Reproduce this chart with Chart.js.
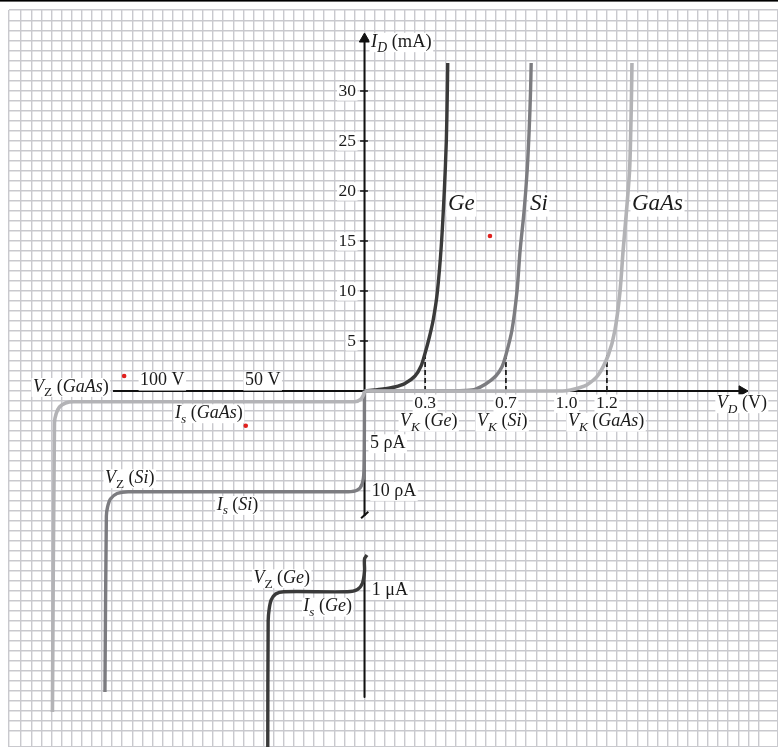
<!DOCTYPE html>
<html>
<head>
<meta charset="utf-8">
<script src="https://cdn.jsdelivr.net/npm/chart.js@4.4.1/dist/chart.umd.min.js"></script>
<style>
html,body{margin:0;padding:0;background:#fff;overflow:hidden;}
canvas{display:block;}
</style>
</head>
<body>
<canvas id="c" width="778" height="747" style="width:778px;height:747px"></canvas>
<script>
// ---- data (V in volts, I in mA; negative region is the book's schematic, broken scale) ----
const geFwdV   = [0, 0.05, 0.1, 0.15, 0.2, 0.25, 0.28, 0.3, 0.32, 0.34, 0.36, 0.38, 0.395, 0.405, 0.41, 0.412];
const geFwdI   = [0, 0.1, 0.22, 0.4, 0.75, 1.5, 2.5, 3.8, 5.3, 7.1, 9.8, 14.5, 20, 25, 30, 32.8];
const siFwdV   = [0, 0.44, 0.5, 0.55, 0.6, 0.65, 0.68, 0.7, 0.73, 0.755, 0.77, 0.79, 0.805, 0.815, 0.822, 0.825];
const siFwdI   = [0, 0, 0.05, 0.2, 0.7, 1.5, 2.4, 3.6, 6.1, 10, 14, 18, 22, 26, 30, 32.8];
const gaasFwdV = [0, 0.98, 1.02, 1.06, 1.1, 1.157, 1.207, 1.24, 1.265, 1.28, 1.297, 1.312, 1.318, 1.322, 1.324];
const gaasFwdI = [0, 0, 0.1, 0.3, 0.6, 1.6, 3.6, 6.1, 10, 14, 18, 22, 26, 30, 32.8];

const gaasRevV = [0, -0.005, -0.02, -0.05, -1.44, -1.48, -1.51, -1.527, -1.535, -1.545];
const gaasRevI = [0, -0.4, -0.85, -1.07, -1.07, -1.2, -1.6, -2.3, -3.2, -32.1];
const siRevV   = [0, -0.003, -0.012, -0.035, -0.08, -1.17, -1.225, -1.258, -1.272, -1.278, -1.285];
const siRevI   = [0, -8.0, -9.3, -9.9, -10.07, -10.07, -10.25, -10.8, -11.6, -12.5, -30.1];
const geRevV   = [0.012, 0, 0, -0.01, -0.035, -0.085, -0.4, -0.44, -0.462, -0.472, -0.477, -0.479];
const geRevI   = [-16.4, -16.8, -18.0, -19.2, -19.85, -20.07, -20.07, -20.3, -20.9, -21.8, -23, -36];

const kneeV    = [0.3, 0.7, 1.2];     // V_K (Ge), V_K (Si), V_K (GaAs)
const kneeI    = [3.8, 3.6, 3.6];     // current where the dashed drop line meets the curve
const xTickLabels = ['0.3', '0.7', '1.0', '1.2'];
const xTickValues = [0.3, 0.7, 1.0, 1.2];
const yTickValues = [5, 10, 15, 20, 25, 30];
const dotV = [-1.19, 0.621, -0.588];
const dotI = [1.5, 15.5, -3.47];

// ---- helpers ----
const pts = (xs, ys) => xs.map((x, i) => ({x, y: ys[i]}));
const SERIF = '"Liberation Serif", "DejaVu Serif", serif';

function curve(xs, ys, color, width, order, extra) {
  return Object.assign({
    data: pts(xs, ys), showLine: true, borderColor: color, borderWidth: width,
    pointRadius: 0, tension: 0.3, order, fill: false, borderCapStyle: 'butt', borderJoinStyle: 'round'
  }, extra || {});
}

const datasets = [];
// curves (lower order = drawn on top)
datasets.push(curve(gaasFwdV, gaasFwdI, '#b3b3b6', 3.6, 1));
datasets.push(curve(gaasRevV, gaasRevI, '#b3b3b6', 3.6, 1));
datasets.push(curve(siFwdV, siFwdI, '#7c7c80', 3.4, 2));
datasets.push(curve(siRevV, siRevI, '#7c7c80', 3.4, 2));
datasets.push(curve(geFwdV, geFwdI, '#3a3a3a', 3.4, 3));
datasets.push(curve(geRevV, geRevI, '#3a3a3a', 3.4, 3));
// dashed knee lines
kneeV.forEach((v, i) => datasets.push(curve([v, v], [0, kneeI[i]], '#222', 1.8, 4, {borderDash: [5, 3], tension: 0})));
// axes
datasets.push(curve([-1.245, 1.87], [0, 0], '#111', 2, 5, {tension: 0}));
datasets.push(curve([0, 0], [-12.5, 35.2], '#111', 2, 5, {tension: 0}));
datasets.push(curve([0, 0], [-16.7, -30.6], '#111', 2, 5, {tension: 0}));
datasets.push(curve([-0.017, 0.019], [-12.73, -12.07], '#111', 2, 5, {tension: 0}));
// arrow heads
datasets.push({data: [{x: 1.869, y: 0}], showLine: false, pointStyle: 'triangle', rotation: 90, pointRadius: 6,
  backgroundColor: '#111', borderColor: '#111', borderWidth: 1, order: 5});
datasets.push({data: [{x: 0, y: 35.2}], showLine: false, pointStyle: 'triangle', rotation: 0, pointRadius: 6,
  backgroundColor: '#111', borderColor: '#111', borderWidth: 1, order: 5});
// y tick marks
yTickValues.forEach(v => datasets.push(curve([-0.022, 0.017], [v, v], '#111', 1.5, 5, {tension: 0})));
// red dots
datasets.push({data: pts(dotV, dotI), showLine: false, pointRadius: 2.3, backgroundColor: '#e0201e', borderWidth: 0, order: 0});

// ---- text annotations (anchor in data units) ----
const annotations = [
  {parts: [['I', 'i'], ['D', 'is'], [' (mA)', '']], x: 0.032, y: 34.9, align: 'left', size: 18.5},
  {parts: [['Ge', 'i']], x: 0.413, y: 18.7, align: 'left', size: 23},
  {parts: [['Si', 'i']], x: 0.819, y: 18.7, align: 'left', size: 23},
  {parts: [['GaAs', 'i']], x: 1.324, y: 18.7, align: 'left', size: 23},
  {parts: [['V', 'i'], ['K', 'is'], [' (', ''], ['Ge', 'i'], [')', '']], x: 0.176, y: -3.07, align: 'left', size: 18},
  {parts: [['V', 'i'], ['K', 'is'], [' (', ''], ['Si', 'i'], [')', '']], x: 0.557, y: -3.07, align: 'left', size: 18},
  {parts: [['V', 'i'], ['K', 'is'], [' (', ''], ['GaAs', 'i'], [')', '']], x: 1.007, y: -3.07, align: 'left', size: 18},
  {parts: [['V', 'i'], ['D', 'is'], [' (V)', '']], x: 1.744, y: -1.23, align: 'left', size: 18},
  {parts: [['5 ρA', '']], x: 0.027, y: -5.23, align: 'left', size: 18},
  {parts: [['10 ρA', '']], x: 0.036, y: -10.0, align: 'left', size: 18},
  {parts: [['1 μA', '']], x: 0.036, y: -19.9, align: 'left', size: 18},
  {parts: [['V', 'i'], ['Z', 's'], [' (', ''], ['GaAs', 'i'], [')', '']], x: -1.641, y: 0.4, align: 'left', size: 18},
  {parts: [['100 V', '']], x: -1.111, y: 1.03, align: 'left', size: 18},
  {parts: [['50 V', '']], x: -0.592, y: 1.03, align: 'left', size: 18},
  {parts: [['I', 'i'], ['s', 'is'], [' (', ''], ['GaAs', 'i'], [')', '']], x: -0.938, y: -2.23, align: 'left', size: 18},
  {parts: [['V', 'i'], ['Z', 's'], [' (', ''], ['Si', 'i'], [')', '']], x: -1.285, y: -8.73, align: 'left', size: 18},
  {parts: [['I', 'i'], ['s', 'is'], [' (', ''], ['Si', 'i'], [')', '']], x: -0.732, y: -11.4, align: 'left', size: 18},
  {parts: [['V', 'i'], ['Z', 's'], [' (', ''], ['Ge', 'i'], [')', '']], x: -0.55, y: -18.73, align: 'left', size: 18},
  {parts: [['I', 'i'], ['s', 'is'], [' (', ''], ['Ge', 'i'], [')', '']], x: -0.303, y: -21.57, align: 'left', size: 18}
];
xTickValues.forEach((v, i) => annotations.push({parts: [[xTickLabels[i], '']], x: v, y: -1.23, align: 'center', size: 17.5}));
yTickValues.forEach(v => annotations.push({parts: [[String(v), '']], x: -0.042, y: v, align: 'right', size: 17.5}));

function drawRich(ctx, parts, x, y, size, align) {
  const segs = parts.map(([t, st]) => {
    const italic = st.indexOf('i') >= 0, sub = st.indexOf('s') >= 0;
    const fs = sub ? size * 0.74 : size;
    const font = (italic ? 'italic ' : '') + fs + 'px ' + SERIF;
    ctx.font = font;
    return {t, font, w: ctx.measureText(t).width, dy: sub ? size * 0.32 : 0};
  });
  const total = segs.reduce((a, s) => a + s.w, 0);
  let x0 = align === 'center' ? x - total / 2 : align === 'right' ? x - total : x;
  ctx.fillStyle = '#fff';
  ctx.fillRect(x0 - 1.5, y - size * 0.5, total + 3, size * 1.05);
  ctx.fillStyle = '#1a1a1a';
  ctx.textBaseline = 'middle';
  ctx.textAlign = 'left';
  segs.forEach(s => { ctx.font = s.font; ctx.fillText(s.t, x0, y + s.dy); x0 += s.w; });
}

const textPlugin = {
  id: 'texts',
  afterDatasetsDraw(chart) {
    const ctx = chart.ctx, xs = chart.scales.x, ys = chart.scales.y;
    ctx.save();
    annotations.forEach(a => drawRich(ctx, a.parts, xs.getPixelForValue(a.x), ys.getPixelForValue(a.y), a.size, a.align));
    ctx.restore();
  },
  afterDraw(chart) {
    const ctx = chart.ctx;
    ctx.save();
    ctx.fillStyle = '#000';
    ctx.fillRect(0, 0, chart.width, 1.6);
    ctx.restore();
  }
};

new Chart(document.getElementById('c'), {
  type: 'scatter',
  data: {datasets},
  options: {
    responsive: false, maintainAspectRatio: false, animation: false, events: [], devicePixelRatio: 1,
    layout: {autoPadding: false, padding: {left: 9, top: 10, right: 0, bottom: 0}},
    plugins: {legend: {display: false}, tooltip: {enabled: false}, title: {display: false}},
    scales: {
      x: {type: 'linear', min: -1.76, max: 2.047,
          ticks: {display: false, stepSize: 0.05},
          grid: {color: '#c9c9ce', lineWidth: 1.4, drawTicks: false},
          border: {display: false}},
      y: {type: 'linear', min: -35.6, max: 38.1,
          ticks: {display: false, stepSize: 1},
          grid: {color: '#c9c9ce', lineWidth: 1.4, drawTicks: false},
          border: {display: false}}
    }
  },
  plugins: [textPlugin]
});
</script>
</body>
</html>
